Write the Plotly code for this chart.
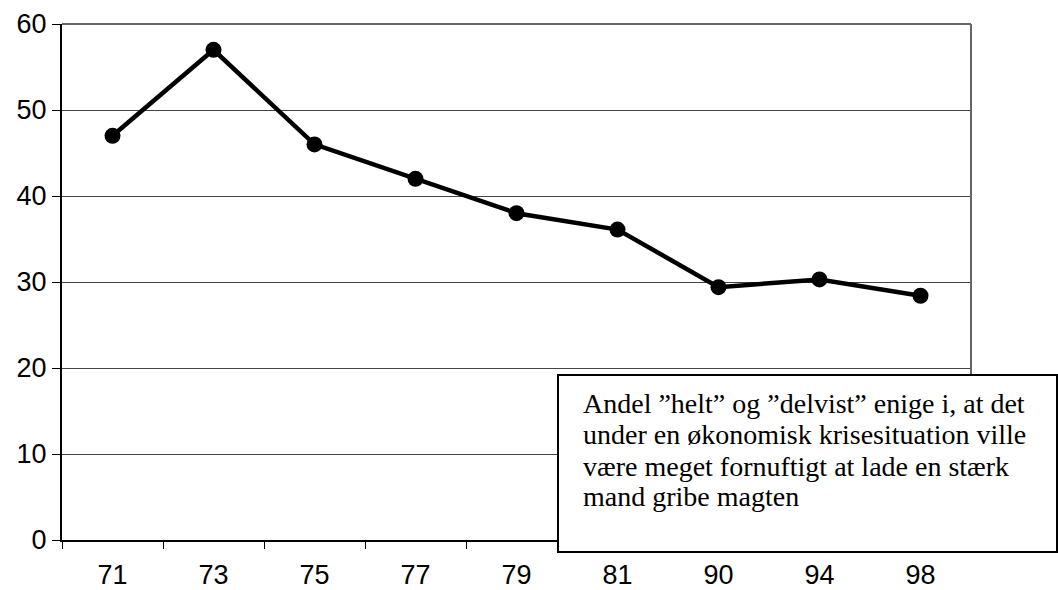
import plotly.graph_objects as go

years = ["71", "73", "75", "77", "79", "81", "90", "94", "98"]
values = [47, 57, 46, 42, 38, 36.1, 29.4, 30.3, 28.4]
y_ticks = [0, 10, 20, 30, 40, 50, 60]
note_lines = [
    "Andel \u201dhelt\u201d og \u201ddelvist\u201d enige i, at det",
    "under en \u00f8konomisk krisesituation ville",
    "v\u00e6re meget fornuftigt at lade en st\u00e6rk",
    "mand gribe magten",
]

W, H = 1058, 590
L, R, T, B = 62, 87, 24, 50
pw, ph = W - L - R, H - T - B

def px(x):
    return (x - L) / pw

def py(y):
    return (H - B - y) / ph

fig = go.Figure()
fig.add_trace(go.Scatter(
    x=years, y=values, mode="lines+markers",
    line=dict(color="black", width=4.5),
    marker=dict(color="black", size=16),
    showlegend=False, cliponaxis=False,
))

baselines = [412, 443, 475, 505]
annotations = [
    dict(text=t, xref="paper", yref="paper", x=px(581), y=py(b - 9),
         xanchor="left", yanchor="middle", align="left", showarrow=False,
         font=dict(family="Liberation Serif, Times New Roman", size=28, color="black"))
    for t, b in zip(note_lines, baselines)
]

fig.update_layout(
    width=W, height=H,
    margin=dict(l=L, r=R, t=T, b=B),
    paper_bgcolor="white", plot_bgcolor="white",
    font=dict(family="Liberation Sans, Arial", size=27, color="black"),
    xaxis=dict(
        type="category", range=[-0.5, 8.5], tickson="boundaries",
        showgrid=False, showline=True, linecolor="black", linewidth=2,
        ticks="outside", ticklen=7, tickcolor="black", tickwidth=1,
        tickfont=dict(size=27), zeroline=False, automargin=False,
        ticklabelstandoff=10,
    ),
    yaxis=dict(
        range=[0, 60], tickvals=y_ticks,
        showgrid=True, gridcolor="#444444", gridwidth=1,
        showline=True, linecolor="black", linewidth=2,
        ticks="outside", ticklen=8, tickcolor="black", tickwidth=1,
        tickfont=dict(size=27), zeroline=False, automargin=False,
        ticklabelstandoff=0,
    ),
    shapes=[
        dict(type="line", xref="paper", yref="paper", x0=0, x1=1, y0=1, y1=1,
             line=dict(color="#666666", width=2)),
        dict(type="line", xref="paper", yref="paper", x0=1, x1=1, y0=0, y1=1,
             line=dict(color="#666666", width=2)),
        dict(type="rect", xref="paper", yref="paper", layer="above",
             x0=px(558), x1=px(1057), y0=py(552), y1=py(375),
             fillcolor="white", line=dict(color="black", width=2)),
    ],
    annotations=annotations,
)

fig.write_html("out.html", config={"displayModeBar": False},
               post_script="document.body.style.margin='0';")
